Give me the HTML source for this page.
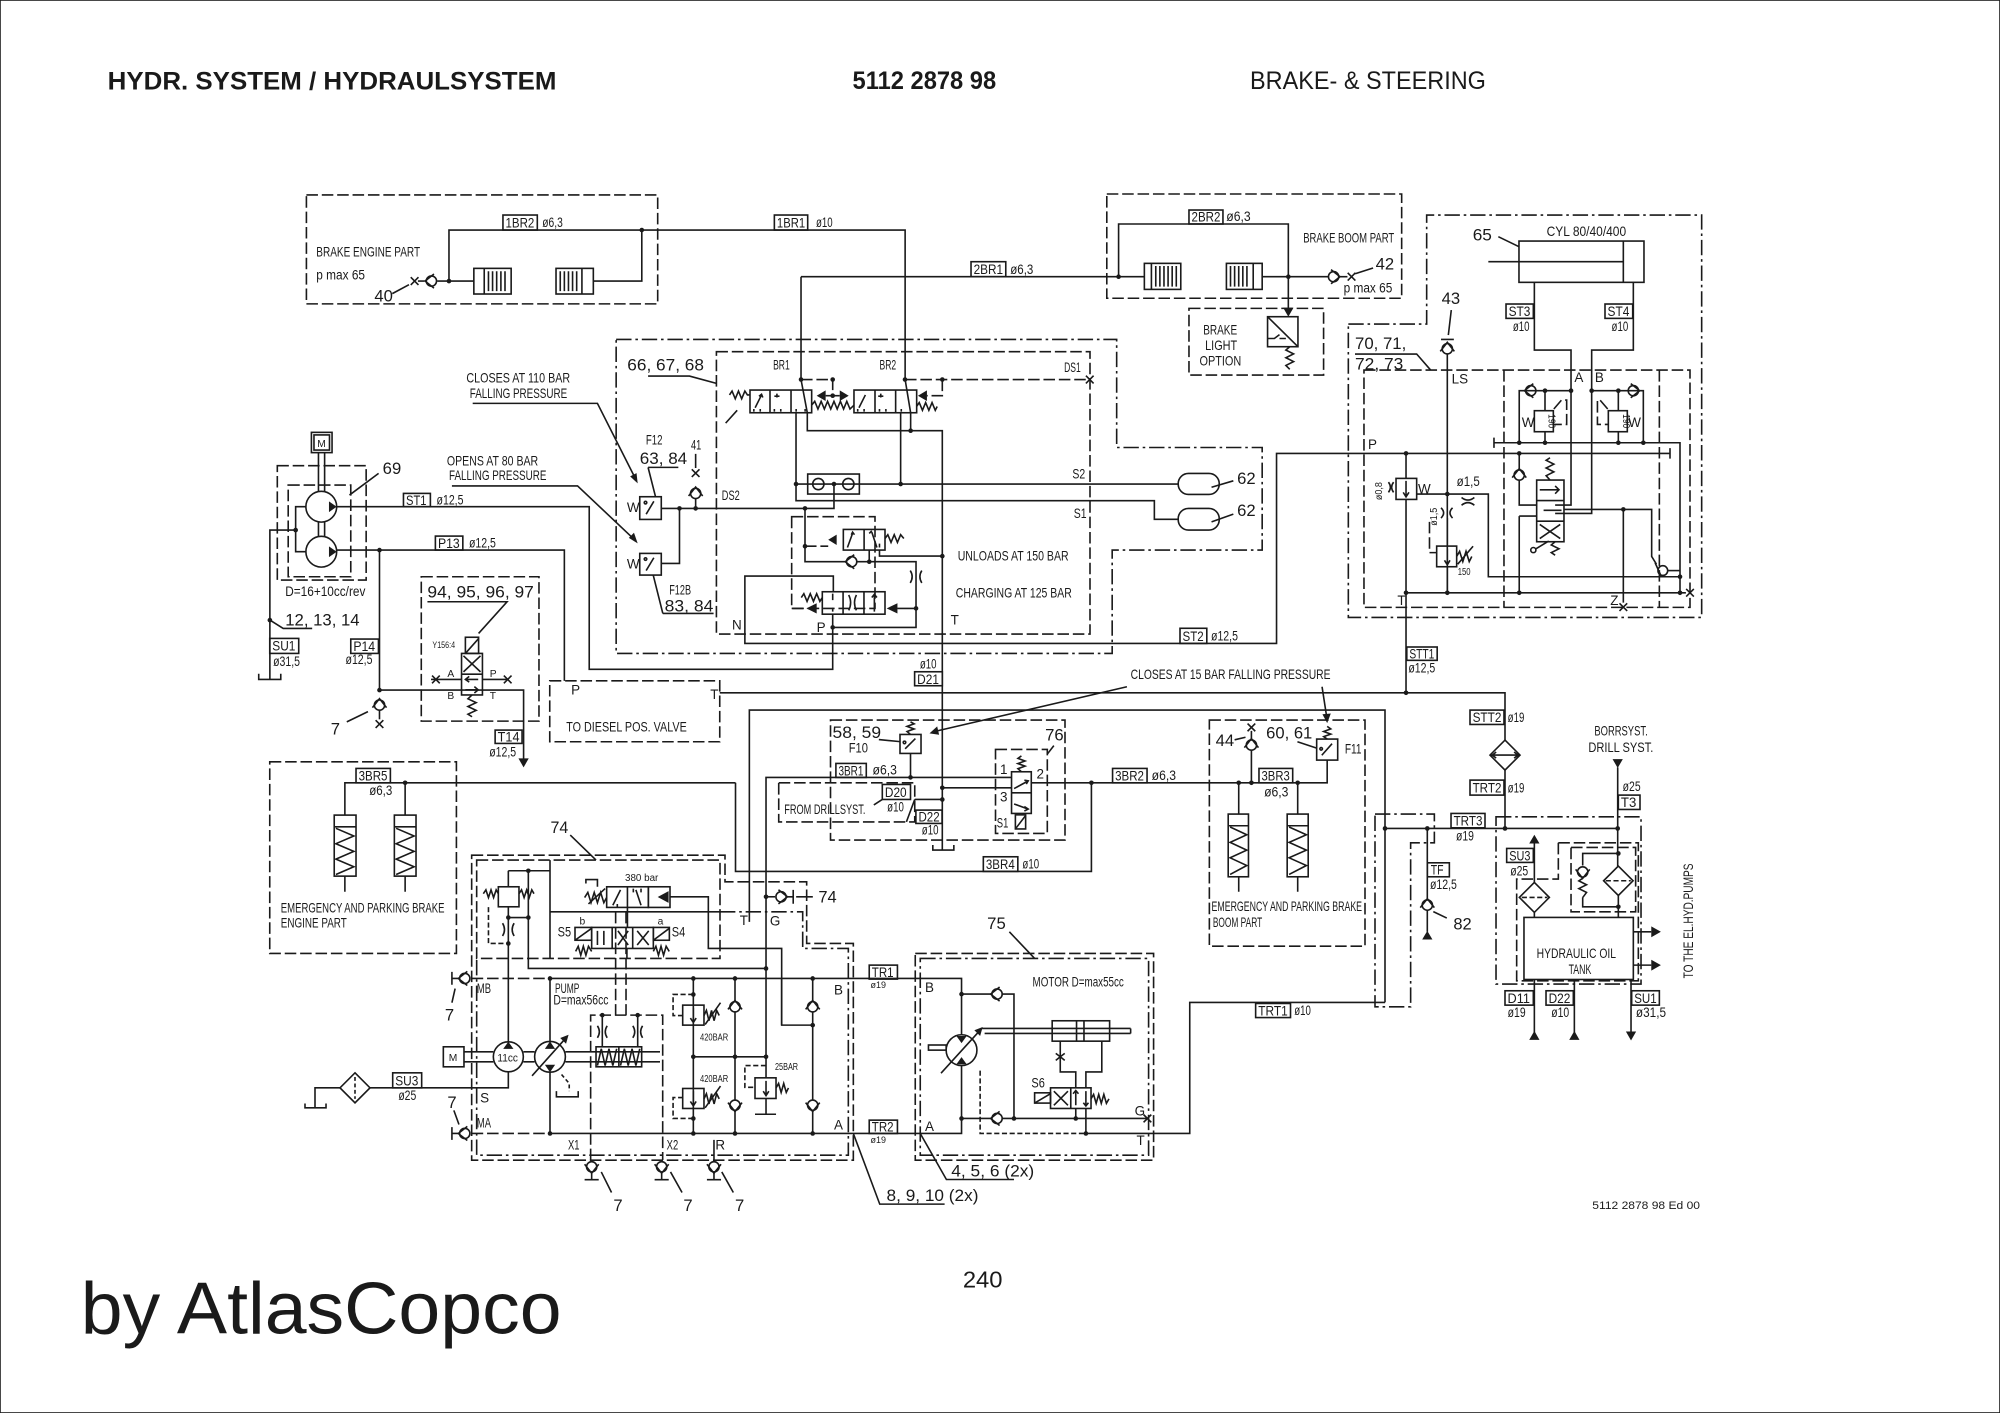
<!DOCTYPE html>
<html><head><meta charset="utf-8"><style>
html,body{margin:0;padding:0;background:#fff}
svg{display:block}
</style></head><body>
<svg xmlns="http://www.w3.org/2000/svg" xmlns:xlink="http://www.w3.org/1999/xlink" width="2000" height="1413" viewBox="0 0 1560 1102" preserveAspectRatio="none">
<style>
path,line,rect,circle,polyline,polygon{stroke:#1a1a1a;stroke-width:1.25;fill:none}
.d{stroke-dasharray:9 3}
.dd{stroke-dasharray:12 3 2 3}
.f{fill:#1a1a1a;stroke:none}
text{font-family:"Liberation Sans",sans-serif;fill:#1a1a1a;stroke:none}
.s{font-size:10.5px}
.n{font-size:13px}
.x{font-size:8px}
.h{font-size:19.5px;font-weight:bold}
</style>
<defs>
<circle id="dot" r="1.8" class="f"/>
<g id="cv"><circle r="4"/><path d="M-5.5 -2 L0 5 L5.5 -2"/></g>
<path id="tri" class="f" d="M-4 -7 L4 -7 L0 0 Z"/>
<g id="xx"><path d="M-3 -3 L3 3 M3 -3 L-3 3"/></g>
</defs>
<rect x="0" y="0" width="1560" height="1102" fill="#fff" stroke="none"/>

<!-- HEADER / FOOTER -->
<text class="h" x="84" y="70" textLength="350" lengthAdjust="spacingAndGlyphs">HYDR. SYSTEM / HYDRAULSYSTEM</text>
<text class="h" x="665" y="69.5" textLength="112" lengthAdjust="spacingAndGlyphs">5112 2878 98</text>
<text style="font-size:19.5px" x="975" y="69.5" textLength="184" lengthAdjust="spacingAndGlyphs">BRAKE- &amp; STEERING</text>
<text style="font-size:18px" x="751" y="1004" textLength="31" lengthAdjust="spacingAndGlyphs">240</text>
<text style="font-size:57px" x="63" y="1040" textLength="375" lengthAdjust="spacingAndGlyphs">by AtlasCopco</text>
<text style="font-size:8.5px" x="1242" y="943" textLength="84" lengthAdjust="spacingAndGlyphs">5112 2878 98 Ed 00</text>

<!-- BRAKE ENGINE PART -->
<rect class="d" x="239" y="152" width="274" height="85"/>
<path d="M350.2 219.2 V179.4 H706 V296 L710.3 322 V335.9"/>
<path d="M500.6 179.4 V219.2 H462.8"/>
<path d="M341 219.2 H369.6"/>
<use xlink:href="#dot" x="350.2" y="219.2"/><use xlink:href="#dot" x="500.6" y="179.4"/>
<rect x="369.6" y="209.3" width="29.1" height="20"/>
<path d="M377.7 209.3 V229.3 M381 211.5 V227 M384.2 211.5 V227 M387.4 211.5 V227 M390.7 211.5 V227 M393.9 211.5 V227"/>
<rect x="433.7" y="209.3" width="29.1" height="20"/>
<path d="M453.9 209.3 V229.3 M437 211.5 V227 M440.2 211.5 V227 M443.4 211.5 V227 M446.6 211.5 V227 M449.8 211.5 V227"/>
<use xlink:href="#cv" transform="translate(336.5 219.2) rotate(90)"/>
<use xlink:href="#xx" x="323.4" y="219.2"/>
<path d="M326 219.2 H331"/>
<text class="n" x="292" y="235">40</text>
<path d="M306 229 L319 222"/>
<rect x="392.3" y="167.7" width="26.8" height="11.7"/>
<text class="s" x="394.3" y="177.4" textLength="22.5" lengthAdjust="spacingAndGlyphs">1BR2</text>
<text class="s" x="423" y="177" textLength="16" lengthAdjust="spacingAndGlyphs">ø6,3</text>
<rect x="604" y="167.7" width="26" height="11.7"/>
<text class="s" x="606" y="177.4" textLength="22" lengthAdjust="spacingAndGlyphs">1BR1</text>
<text class="s" x="636.5" y="177" textLength="13" lengthAdjust="spacingAndGlyphs">ø10</text>
<text class="s" x="246.7" y="200" textLength="81" lengthAdjust="spacingAndGlyphs">BRAKE ENGINE PART</text>
<text class="s" x="246.7" y="218" textLength="38" lengthAdjust="spacingAndGlyphs">p max 65</text>

<!-- BRAKE BOOM PART -->
<rect class="d" x="863.3" y="151.3" width="230" height="81.3"/>
<path d="M624.8 215.8 H872.5"/>
<path d="M624.8 215.8 V296 L629.7 322 V335.9 H735 V663"/>
<path d="M872.5 215.8 V174.7 H1004.9 V242"/>
<use xlink:href="#tri" x="1004.9" y="247"/>
<use xlink:href="#dot" x="872.5" y="215.8"/><use xlink:href="#dot" x="1004.9" y="215.8"/>
<path d="M872.5 215.8 H892.6 M984.5 215.8 H1036"/>
<rect x="892.6" y="205.4" width="28.4" height="20.3"/>
<path d="M898.1 205.4 V225.7 M901.5 207.5 V223.5 M904.7 207.5 V223.5 M907.9 207.5 V223.5 M911.1 207.5 V223.5 M914.3 207.5 V223.5 M917.5 207.5 V223.5"/>
<rect x="956.6" y="205.4" width="27.9" height="20.3"/>
<path d="M977.5 205.4 V225.7 M959.8 207.5 V223.5 M963 207.5 V223.5 M966.2 207.5 V223.5 M969.4 207.5 V223.5 M972.6 207.5 V223.5"/>
<use xlink:href="#cv" transform="translate(1040.2 215.8) rotate(-90)"/>
<use xlink:href="#xx" x="1054.2" y="215.8"/>
<path d="M1044.5 215.8 H1051"/>
<text class="n" x="1073" y="210">42</text>
<path d="M1057 213.5 L1071 209"/>
<text class="s" x="1048" y="228" textLength="38" lengthAdjust="spacingAndGlyphs">p max 65</text>
<text class="s" x="1016.5" y="189" textLength="71" lengthAdjust="spacingAndGlyphs">BRAKE BOOM PART</text>
<rect x="757.4" y="204.1" width="27.1" height="11.7"/>
<text class="s" x="759.4" y="213.8" textLength="23" lengthAdjust="spacingAndGlyphs">2BR1</text>
<text class="s" x="788" y="213.5" textLength="18" lengthAdjust="spacingAndGlyphs">ø6,3</text>
<rect x="927.4" y="163.8" width="26.5" height="10.9"/>
<text class="s" x="929.4" y="172.8" textLength="22.5" lengthAdjust="spacingAndGlyphs">2BR2</text>
<text class="s" x="956.5" y="172.5" textLength="19" lengthAdjust="spacingAndGlyphs">ø6,3</text>
<rect class="d" x="927.4" y="240.5" width="105" height="52"/>
<text class="s" x="938.5" y="261" textLength="26.5" lengthAdjust="spacingAndGlyphs">BRAKE</text>
<text class="s" x="940" y="273" textLength="25" lengthAdjust="spacingAndGlyphs">LIGHT</text>
<text class="s" x="935.6" y="285" textLength="32.6" lengthAdjust="spacingAndGlyphs">OPTION</text>
<rect x="988.7" y="247" width="23.7" height="23.4"/>
<path d="M988.7 247 L1012.4 270.4 M988.7 264 H994 L998 261 M998 264 H1003"/>
<polyline points="1006,270.4 1003,273 1009,276 1003,279 1009,282 1003,285 1006,288"/>

<!-- STEERING 70-73 / CYL 65 -->
<path class="dd" d="M1051.7 252.7 H1112.8 V167.7 H1327.3 V481.5 H1051.7 Z"/>
<rect class="d" x="1063.9" y="288.6" width="254.3" height="185.1"/>
<path class="d" d="M1173.1 288.6 V473.7 M1294.3 288.6 V473.7"/>
<rect x="1184.8" y="188" width="97.5" height="32.2"/>
<path d="M1266.2 188 V220.2 M1160.9 204.1 H1266.2"/>
<text class="s" x="1206.4" y="184" textLength="62" lengthAdjust="spacingAndGlyphs">CYL 80/40/400</text>
<text class="n" x="1148.7" y="187.5" textLength="15" lengthAdjust="spacingAndGlyphs">65</text>
<path d="M1168.7 184.6 L1184.8 192.4"/>
<rect x="1174.7" y="237.1" width="21.3" height="11.2"/>
<text class="s" x="1176.7" y="246.5" textLength="17" lengthAdjust="spacingAndGlyphs">ST3</text>
<text class="s" x="1180" y="258" textLength="13" lengthAdjust="spacingAndGlyphs">ø10</text>
<rect x="1251.9" y="237.1" width="21.6" height="11.2"/>
<text class="s" x="1253.9" y="246.5" textLength="17" lengthAdjust="spacingAndGlyphs">ST4</text>
<text class="s" x="1257" y="258" textLength="13" lengthAdjust="spacingAndGlyphs">ø10</text>
<path d="M1196.8 220.2 V273 H1225.4 V393.9 H1213"/>
<path d="M1274 220.2 V273 H1241.5 V400.4 H1213"/>
<text class="s" x="1228" y="298">A</text>
<text class="s" x="1244" y="298">B</text>
<text class="n" x="1124.5" y="237">43</text>
<path d="M1132 241.8 L1129.7 261.3 M1124 264.7 H1134"/>
<use xlink:href="#cv" transform="translate(1128.9 272) rotate(180)"/>
<path d="M1128.9 276 V462.3"/>
<text class="s" x="1132.3" y="299">LS</text>
<text class="n" x="1056.9" y="272" textLength="40" lengthAdjust="spacingAndGlyphs">70, 71,</text>
<text class="n" x="1056.9" y="288" textLength="37.7" lengthAdjust="spacingAndGlyphs">72, 73</text>
<path d="M1056.9 276.1 H1105 L1115.9 288.6"/>
<!-- ST2 / P line -->
<path d="M650 461.5 V449.3 H581 V501.8 H995.7 V353.6 H1302.6 M1302.6 349.5 V357.7"/>
<rect x="920.4" y="490" width="20.9" height="11.8"/>
<text class="s" x="922.4" y="499.8" textLength="16.5" lengthAdjust="spacingAndGlyphs">ST2</text>
<text class="s" x="944.6" y="499.5" textLength="21" lengthAdjust="spacingAndGlyphs">ø12,5</text>
<text class="s" x="1067" y="350">P</text>
<use xlink:href="#dot" x="1096.7" y="353.6"/><use xlink:href="#dot" x="1185" y="353.6"/>
<path d="M1165.3 341.3 V349.3 M1165.3 345.3 H1310.4 V462.3"/>
<use xlink:href="#dot" x="1185" y="345.3"/><use xlink:href="#dot" x="1205.1" y="345.3"/><use xlink:href="#dot" x="1262.3" y="345.3"/><use xlink:href="#dot" x="1281.8" y="345.3"/>
<path d="M1185 345.3 V304.7 H1225.4 M1241.5 304.7 H1281.8 V345.3"/>
<use xlink:href="#cv" transform="translate(1194 304.7) rotate(90)"/>
<use xlink:href="#cv" transform="translate(1274 304.7) rotate(-90)"/>
<use xlink:href="#dot" x="1205.1" y="304.7"/><use xlink:href="#dot" x="1225.4" y="304.7"/><use xlink:href="#dot" x="1241.5" y="304.7"/><use xlink:href="#dot" x="1262.3" y="304.7"/>
<path d="M1205.1 304.7 V320.3 M1205.1 336.7 V345.3 M1262.3 304.7 V320.3 M1262.3 336.7 V345.3"/>
<rect x="1196.8" y="320.3" width="14.8" height="16.4"/>
<rect x="1254.5" y="320.3" width="14.8" height="16.4"/>
<text class="x" x="1208" y="323" transform="rotate(90 1208 323)" textLength="11" lengthAdjust="spacingAndGlyphs">190</text>
<text class="x" x="1266" y="323" transform="rotate(90 1266 323)" textLength="11" lengthAdjust="spacingAndGlyphs">190</text>
<text class="s" x="1187" y="333">W</text><text class="s" x="1270" y="333">W</text>
<path class="d" d="M1212 319 L1218 312 H1222 V331 H1212 M1254 319 L1248 312 H1246 V331 H1254"/>
<path d="M1096.7 353.6 V373.1 M1096.7 389.5 V540.3"/>
<rect x="1088.9" y="373.1" width="16.1" height="16.4"/>
<path d="M1096.7 375 V387 M1094.5 384 L1096.7 387.5 L1099 384"/>
<text class="s" x="1106" y="385">W</text>
<text class="x" x="1078" y="390" transform="rotate(-90 1078 390)" textLength="14" lengthAdjust="spacingAndGlyphs">ø0,8</text>
<path d="M1083 376 Q1086 380 1083 384 M1087 376 Q1084 380 1087 384"/>
<path d="M1105 385.3 H1160.9 V449.8 H1310.4"/>
<use xlink:href="#dot" x="1128.9" y="385.3"/>
<text class="s" x="1136.2" y="379" textLength="18" lengthAdjust="spacingAndGlyphs">ø1,5</text>
<path d="M1140 388 Q1145 392 1150 388 M1140 394 Q1145 390 1150 394"/>
<text class="x" x="1121" y="410" transform="rotate(-90 1121 410)" textLength="14" lengthAdjust="spacingAndGlyphs">ø1,5</text>
<path d="M1124 396 Q1128 400 1124 404 M1133 396 Q1129 400 1133 404"/>
<path d="M1128.9 404 V425.9 M1128.9 442 V462.3"/>
<rect x="1120.6" y="425.9" width="15.6" height="16.1"/>
<path d="M1128.9 428 V440 M1126.7 437 L1128.9 440.5 L1131 437"/>
<polyline points="1136.2,434 1138.5,430 1141,438 1143.5,430 1146,438 1148,434"/>
<path d="M1137 440 L1149 426"/>
<text class="x" x="1137" y="448.5" textLength="10" lengthAdjust="spacingAndGlyphs">150</text>
<path class="d" d="M1115 407 V431 H1120.6"/>
<path d="M1096.7 462.3 H1310.4 H1315"/>
<use xlink:href="#dot" x="1096.7" y="462.3"/><use xlink:href="#dot" x="1128.9" y="462.3"/><use xlink:href="#dot" x="1185" y="462.3"/><use xlink:href="#dot" x="1310.4" y="462.3"/><use xlink:href="#dot" x="1310.4" y="449.8"/>
<use xlink:href="#xx" x="1318.2" y="462.3"/>
<text class="s" x="1090" y="472">T</text>
<rect x="1198.6" y="374.4" width="21.3" height="48.1"/>
<path d="M1198.6 390.4 H1219.9 M1198.6 406.5 H1219.9 M1201 382 H1216 M1213 379 L1216 382 L1213 385 M1204 398 H1218 M1201 409 L1217 420 M1217 409 L1201 420"/>
<polyline points="1209,374.4 1206,371 1212,368 1206,365 1212,362 1206,359 1209,357"/>
<polyline points="1213,422.5 1210,425 1216,428 1210,431 1213,433"/>
<path d="M1198 428 L1208 422 M1196 429 m-2 0 a2 2 0 1 0 4 0 a2 2 0 1 0 -4 0"/>
<use xlink:href="#cv" transform="translate(1185 370.5) rotate(180)"/>
<path d="M1185 353.6 V366 M1185 375 V393.9 H1198.6 M1185 402.5 H1198.6 M1185 402.5 V462.3"/>
<path d="M1219.9 397.3 H1288.3 V434 L1292 440"/>
<use xlink:href="#dot" x="1266.2" y="397.3"/>
<path d="M1266.2 397.3 V470"/>
<use xlink:href="#xx" x="1266.2" y="473.5"/>
<text class="s" x="1256" y="472">Z</text>
<circle cx="1297" cy="445" r="3.8"/>
<path d="M1291 439 L1296 450"/>
<path d="M1301 445 H1310.4"/>

<!-- VALVE BLOCK 66,67,68 -->
<path class="dd" d="M480.6 264.7 H871 V349 H984.5 V429 H867.5 V509.6 H480.6 Z"/>
<rect class="d" x="558.8" y="274.3" width="291.4" height="220.2"/>
<text class="n" x="489.3" y="289" textLength="59.8" lengthAdjust="spacingAndGlyphs">66, 67, 68</text>
<path d="M505.5 293.3 H537.8 L558.8 299"/>
<text class="s" x="603" y="288" textLength="13" lengthAdjust="spacingAndGlyphs">BR1</text>
<text class="s" x="686" y="288" textLength="13" lengthAdjust="spacingAndGlyphs">BR2</text>
<rect x="585" y="304.2" width="48.1" height="17.7"/>
<path d="M600.6 304.2 V321.9 M617 304.2 V321.9 M589 318 L594 308 M592 309 L594 307.5 L595 310 M606 307 V310 M604 309 H608 M588 319 V321 M593 319 V321 M604 319 V321 M609 319 V321 M621 319 V321 M628 319 V321"/>
<rect x="666.1" y="304.2" width="48.9" height="17.7"/>
<path d="M682.5 304.2 V321.9 M698.6 304.2 V321.9 M670 318 L675 308 M687 307 V310 M685 309 H689 M669 319 V321 M674 319 V321 M686 319 V321 M691 319 V321 M703 319 V321"/>
<polyline points="569,308 571,305 573.5,311 576,305 578.5,311 581,305 583,308 585,308"/>
<path d="M575 320 L566 330"/>
<polyline points="633.1,316 635.5,313 638,319 640.5,313 643,319 645.5,313 648,319 650.5,313 653,319 655.5,313 658,319 660.5,313 663,319 666.1,316"/>
<path class="f" d="M637 308.6 L644 304.5 L644 312.7 Z M662 308.6 L655 304.5 L655 312.7 Z"/>
<path d="M644 308.6 H655"/>
<use xlink:href="#dot" x="649.5" y="308.6"/>
<path class="f" d="M716 308.6 L723 304.5 L723 312.7 Z"/>
<polyline points="715,317 717,314 719.5,320 722,314 724.5,320 727,314 729.5,320 731,317"/>
<path class="d" d="M624.8 296 H649.5 V305"/>
<path class="d" d="M705.9 296 H850 M735 296 V308.6 H723"/>
<use xlink:href="#dot" x="624.8" y="296"/><use xlink:href="#dot" x="705.9" y="296"/><use xlink:href="#dot" x="735" y="296"/><use xlink:href="#dot" x="649.5" y="296"/>
<use xlink:href="#xx" x="850" y="296"/>
<text class="s" x="830" y="290" textLength="13" lengthAdjust="spacingAndGlyphs">DS1</text>
<use xlink:href="#dot" x="710.3" y="335.9"/>
<path d="M620.9 321.9 V390.5 H900.4 V405 H919"/>
<path d="M702.5 321.9 V377.5"/>
<path d="M620.9 377.5 H919"/>
<use xlink:href="#dot" x="620.9" y="377.5"/><use xlink:href="#dot" x="702.5" y="377.5"/>
<rect x="630" y="369.7" width="40.3" height="15.6"/>
<circle cx="638.3" cy="377.5" r="4.4"/><circle cx="661.7" cy="377.5" r="4.4"/>
<use xlink:href="#dot" x="650.5" y="377.5"/>
<path d="M650.5 377.5 V396.5 H515.8"/>
<use xlink:href="#dot" x="627.9" y="396.5"/><use xlink:href="#dot" x="530" y="396.5"/><use xlink:href="#dot" x="542.6" y="396.5"/>
<text class="s" x="563" y="390" textLength="14" lengthAdjust="spacingAndGlyphs">DS2</text>
<text class="s" x="836.5" y="373" textLength="10" lengthAdjust="spacingAndGlyphs">S2</text>
<text class="s" x="837.5" y="404" textLength="10" lengthAdjust="spacingAndGlyphs">S1</text>
<rect x="919" y="369.2" width="32" height="16.4" rx="8"/>
<rect x="919" y="396.5" width="32" height="16.9" rx="8"/>
<text class="n" x="965" y="377.5">62</text>
<text class="n" x="965" y="402.5">62</text>
<path d="M945 380 L962 375 M945 407 L962 401"/>
<!-- unloader -->
<rect class="d" x="617.5" y="403" width="65" height="71.5"/>
<path d="M627.9 396.5 V438.1 H660"/>
<path class="d" d="M627.9 426 H646"/>
<use xlink:href="#dot" x="627.9" y="426"/>
<rect x="657.8" y="412.9" width="32.5" height="16.1"/>
<path d="M674 412.9 V429 M661 427 L665 416 M664 417 L665 415 L666.5 417 M680 415 L684 427 M678 416 L680 414 M686 427 V424"/>
<path class="f" d="M646 421 L652.6 417 L652.6 425 Z M646.5 425.5 L657.8 421"/>
<polyline points="690.3,420 692.5,417 695,423 697.5,417 700,423 702.5,417 705,420"/>
<use xlink:href="#cv" transform="translate(664.3 438.1) rotate(90)"/>
<path d="M668.5 438.1 H714.5 V489.3 H649.5 M678 438.1 V429"/>
<use xlink:href="#dot" x="678" y="438.1"/>
<path d="M686 429 V433.7 H735"/>
<use xlink:href="#dot" x="735" y="433.7"/>
<path d="M710 445 Q713 449.8 710 454.6 M719 445 Q716 449.8 719 454.6" />
<rect x="641.4" y="461.5" width="48.9" height="17.5"/>
<path d="M657.6 461.5 V479 M673.9 461.5 V479 M649.5 463 V468 M649.5 474 V477 M662 464 Q665 470 662 476 M668 464 Q665 470 668 476 M682 477 V464 M680 466 L682 463.5 L684 466"/>
<polyline points="625,466 627,463 629.5,469 632,463 634.5,469 637,463 639.5,469 641.4,466"/>
<path class="f" d="M629 474.5 L637 470.5 L637 478.5 Z M691.6 474.5 L700 470.5 L700 478.5 Z"/>
<path class="d" d="M617.5 474.5 H629"/>
<path d="M700 474.5 H714.5"/>
<use xlink:href="#dot" x="714.5" y="474.5"/>
<text class="s" x="637" y="493">P</text>
<use xlink:href="#dot" x="649.5" y="489.3"/>
<text class="s" x="571" y="491">N</text>
<text class="s" x="747" y="437.3" textLength="86.5" lengthAdjust="spacingAndGlyphs">UNLOADS AT 150 BAR</text>
<text class="s" x="745.5" y="466" textLength="90.5" lengthAdjust="spacingAndGlyphs">CHARGING AT 125 BAR</text>
<text class="s" x="741.5" y="487">T</text>
<!-- pressure switches F12 -->
<rect x="499" y="387.4" width="16.8" height="17.7"/>
<path d="M504 401 L510 391 M503.5 392 m-1 0 a1 1 0 1 0 2 0 a1 1 0 1 0 -2 0"/>
<text class="s" x="489" y="399.5">W</text>
<text class="s" x="503.8" y="346.5" textLength="13" lengthAdjust="spacingAndGlyphs">F12</text>
<text class="n" x="499" y="362" textLength="37" lengthAdjust="spacingAndGlyphs">63, 84</text>
<path d="M505.5 364.5 H529.1 M505.5 364.5 L511.3 387.4"/>
<text class="s" x="539" y="350.5" textLength="8" lengthAdjust="spacingAndGlyphs">41</text>
<path d="M542.6 354 V365 M542.6 389 V396.5"/>
<use xlink:href="#xx" x="542.6" y="369"/>
<use xlink:href="#cv" transform="translate(542.6 384.8) rotate(180)"/>
<rect x="499" y="431.6" width="16.8" height="16.9"/>
<path d="M504 445 L510 435 M503.5 436 m-1 0 a1 1 0 1 0 2 0 a1 1 0 1 0 -2 0"/>
<text class="s" x="489" y="443.5">W</text>
<path d="M515.8 439.4 H530 V396.5"/>
<text class="s" x="522" y="463.5" textLength="17" lengthAdjust="spacingAndGlyphs">F12B</text>
<text class="n" x="518.4" y="477" textLength="38" lengthAdjust="spacingAndGlyphs">83, 84</text>
<path d="M517 478.4 H556.6 M517 478.4 L509.5 448.5"/>
<text class="s" x="363.8" y="298.5" textLength="80.9" lengthAdjust="spacingAndGlyphs">CLOSES AT 110 BAR</text>
<text class="s" x="366.4" y="310.3" textLength="76" lengthAdjust="spacingAndGlyphs">FALLING PRESSURE</text>
<path d="M368.7 314.6 H466 L495 372"/>
<path class="f" d="M497.4 377 L491.5 371.5 L496.5 369 Z"/>
<text class="s" x="348.6" y="363" textLength="71.2" lengthAdjust="spacingAndGlyphs">OPENS AT 80 BAR</text>
<text class="s" x="350.2" y="374.5" textLength="76" lengthAdjust="spacingAndGlyphs">FALLING PRESSURE</text>
<path d="M352.5 379 H450.5 L494 420"/>
<path class="f" d="M497.4 423.8 L490.5 419.5 L494.5 415.5 Z"/>

<!-- PUMP 69 -->
<rect x="242.9" y="337.2" width="16.1" height="15.8"/>
<rect x="244.9" y="339.2" width="12.1" height="11.8"/>
<text class="x" x="247.5" y="348.5">M</text>
<path d="M248.4 353 V383.2 M253.2 353 V383.2 M248.4 407.2 V418.3 M253.2 407.2 V418.3"/>
<circle cx="250.6" cy="395.2" r="12"/>
<circle cx="250.6" cy="430.3" r="12"/>
<path class="f" d="M262.6 395.2 L256.6 391 L256.6 399.4 Z M262.6 430.3 L256.6 426.1 L256.6 434.5 Z"/>
<rect class="d" x="216.3" y="363.2" width="69.3" height="89.2"/>
<rect class="d" x="224.8" y="378.3" width="48.8" height="71.5"/>
<path d="M238.6 395.2 H230.6 V430.3 H238.6 M230.6 413.4 H210.5 V529.9"/>
<use xlink:href="#dot" x="230.6" y="413.4"/>
<text class="n" x="298.5" y="369.5">69</text>
<path d="M272.6 386.1 L295.3 369.2"/>
<path d="M262.6 395.2 H459.6 V522 H649.5 V479"/>
<rect x="314.7" y="384.8" width="21" height="10.4"/>
<text class="s" x="316.7" y="393.8" textLength="16" lengthAdjust="spacingAndGlyphs">ST1</text>
<text class="s" x="340.5" y="393.5" textLength="21" lengthAdjust="spacingAndGlyphs">ø12,5</text>
<path d="M262.6 429 H440.2 V531"/>
<use xlink:href="#dot" x="296" y="429"/>
<rect x="339.6" y="418.1" width="21.4" height="10.9"/>
<text class="s" x="341.6" y="427.4" textLength="17" lengthAdjust="spacingAndGlyphs">P13</text>
<text class="s" x="365.8" y="427" textLength="21" lengthAdjust="spacingAndGlyphs">ø12,5</text>
<text class="s" x="222.5" y="465" textLength="62.5" lengthAdjust="spacingAndGlyphs">D=16+10cc/rev</text>
<text class="n" x="222.5" y="488" textLength="58" lengthAdjust="spacingAndGlyphs">12, 13, 14</text>
<path d="M210.5 483.6 L220.9 490.1 H243.5"/>
<use xlink:href="#dot" x="210.5" y="483.6"/>
<rect x="210.4" y="497.9" width="22.6" height="11.7"/>
<text class="s" x="212.4" y="507.5" textLength="18" lengthAdjust="spacingAndGlyphs">SU1</text>
<text class="s" x="213" y="519.5" textLength="21" lengthAdjust="spacingAndGlyphs">ø31,5</text>
<path d="M201.8 525.5 V529.9 H219 V525.5"/>
<path d="M296 429 V538.2"/>
<rect x="273.6" y="498.4" width="21.6" height="11.2"/>
<text class="s" x="275.6" y="507.8" textLength="17" lengthAdjust="spacingAndGlyphs">P14</text>
<text class="s" x="269.5" y="518" textLength="21" lengthAdjust="spacingAndGlyphs">ø12,5</text>
<use xlink:href="#dot" x="296" y="538.2"/>
<use xlink:href="#cv" transform="translate(296 549.9) rotate(180)"/>
<path d="M296 554 V561"/>
<use xlink:href="#xx" x="296" y="564.7"/>
<text class="n" x="258" y="573">7</text>
<path d="M270.5 563 L287 555"/>
<path d="M296 538.2 H408.4 V592"/>
<use xlink:href="#tri" x="408.4" y="598.5"/>
<rect x="386.2" y="569.4" width="21" height="10.4"/>
<text class="s" x="388.2" y="578.4" textLength="17" lengthAdjust="spacingAndGlyphs">T14</text>
<text class="s" x="381.6" y="590" textLength="21" lengthAdjust="spacingAndGlyphs">ø12,5</text>
<rect class="d" x="328.6" y="449.8" width="91.8" height="112.6"/>
<text class="n" x="333.4" y="466" textLength="83" lengthAdjust="spacingAndGlyphs">94, 95, 96, 97</text>
<path d="M333.4 469.3 H395.5 L373.3 494"/>
<text style="font-size:7px" x="337.3" y="505.5" textLength="17.7" lengthAdjust="spacingAndGlyphs">Y156:4</text>
<rect x="363" y="497" width="10.3" height="12.6"/>
<path d="M363 509.6 L373.3 498"/>
<rect x="360" y="509.6" width="16.3" height="32.4"/>
<path d="M360 525.8 H376.3 M361.5 511.5 L374.8 524 M374.8 511.5 L361.5 524 M363 529.9 H373 M366 527.5 L363 529.9 L366 532 M363 538 H373 M370 535.5 L373 538 L370 540.5"/>
<polyline points="368.2,542 365,545 371.4,548 365,551 371.4,554 365,557 368.2,559"/>
<path d="M336.2 529.9 H360 M376.3 529.9 H396"/>
<use xlink:href="#xx" x="340" y="529.9"/><use xlink:href="#xx" x="396" y="529.9"/>
<text class="x" x="349" y="528">A</text><text class="x" x="382" y="528">P</text>
<text class="x" x="349" y="545">B</text><text class="x" x="382" y="545">T</text>

<!-- DIESEL -->
<rect class="d" x="428.8" y="531" width="132.6" height="47.5"/>
<text class="s" x="445.5" y="541.5">P</text>
<text class="s" x="554" y="545">T</text>
<text class="s" x="441.7" y="570.5" textLength="94" lengthAdjust="spacingAndGlyphs">TO DIESEL POS. VALVE</text>
<path d="M561.4 540.3 H1173.9 V577.2 M1173.9 600.6 V646.1"/>
<use xlink:href="#dot" x="1096.7" y="540.3"/>
<rect x="1097.3" y="504.6" width="23.7" height="10.4"/>
<text class="s" x="1099.3" y="513.6" textLength="19.5" lengthAdjust="spacingAndGlyphs">STT1</text>
<text class="s" x="1098.5" y="524.5" textLength="21" lengthAdjust="spacingAndGlyphs">ø12,5</text>
<path d="M584.5 719 V553.8 H1080.3 V781.8"/>
<text class="s" x="717.5" y="521.5" textLength="13" lengthAdjust="spacingAndGlyphs">ø10</text>
<rect x="713.4" y="523.9" width="21.6" height="10.9"/>
<text class="s" x="715.4" y="533.3" textLength="17" lengthAdjust="spacingAndGlyphs">D21</text>
<path d="M727.6 659 V663 H744 V659"/>

<!-- CLOSES AT 15 BAR -->
<text class="s" x="881.9" y="529.5" textLength="155.9" lengthAdjust="spacingAndGlyphs">CLOSES AT 15 BAR FALLING PRESSURE</text>
<path d="M879 535.6 L731 570"/>
<path class="f" d="M725 572 L731 566.5 L732.5 573 Z"/>
<path d="M1031.2 535.6 L1034.5 557"/>
<path class="f" d="M1035.2 564 L1031.5 557 L1038 556.5 Z"/>

<!-- 58,59 / 76 -->
<rect class="d" x="647.8" y="561.6" width="182.9" height="93.6"/>
<text class="n" x="649.4" y="575.5" textLength="37.8" lengthAdjust="spacingAndGlyphs">58, 59</text>
<text class="s" x="662" y="587" textLength="15" lengthAdjust="spacingAndGlyphs">F10</text>
<path d="M685.5 576.8 L702 578.4"/>
<rect x="702" y="572.8" width="16.4" height="14.8"/>
<path d="M706 584 L714 576 M705.5 579 m-1 0 a1 1 0 1 0 2 0 a1 1 0 1 0 -2 0"/>
<polyline points="710.2,572.8 707.5,570.5 713,568.5 707.5,566.5 713,564.5 710.2,563"/>
<path d="M710.2 587.6 V606.3"/>
<use xlink:href="#dot" x="710.2" y="606.3"/>
<rect x="652" y="595.4" width="23.7" height="10.9"/>
<text class="s" x="654" y="604.8" textLength="19.5" lengthAdjust="spacingAndGlyphs">3BR1</text>
<text class="s" x="680.6" y="604" textLength="19" lengthAdjust="spacingAndGlyphs">ø6,3</text>
<path d="M597.5 824.2 V606.3 H789"/>
<rect class="d" x="607.4" y="610.5" width="106.1" height="30.5"/>
<text class="s" x="611.7" y="635" textLength="63.3" lengthAdjust="spacingAndGlyphs">FROM DRILLSYST.</text>
<rect x="688.2" y="611.8" width="22" height="11.7"/>
<text class="s" x="690.2" y="621.5" textLength="17" lengthAdjust="spacingAndGlyphs">D20</text>
<text class="s" x="692" y="633" textLength="13" lengthAdjust="spacingAndGlyphs">ø10</text>
<path d="M681.6 627.8 L688.2 623.5"/>
<path d="M713.5 623.5 H735 M735 614.4 H789"/>
<use xlink:href="#dot" x="735" y="614.4"/><use xlink:href="#dot" x="735" y="623.5"/>
<path d="M707 641 L713.5 623.5"/>
<rect x="714.4" y="631.8" width="20.4" height="10.4"/>
<text class="s" x="716.4" y="640.8" textLength="16.5" lengthAdjust="spacingAndGlyphs">D22</text>
<text class="s" x="719" y="651" textLength="13" lengthAdjust="spacingAndGlyphs">ø10</text>
<rect class="d" x="776.5" y="584.5" width="40.4" height="65.5"/>
<rect x="789" y="601.9" width="15.4" height="32.5"/>
<path d="M789 618.3 H804.4 M791 615 L802 609 M799 608.5 L802 609 L800.5 611.5 M791 627 L802 631 M799 629 L802 631 L799 632.5"/>
<polyline points="796.7,601.9 794,599.5 799.5,597.5 794,595.5 799.5,593.5 794,591.5 796.7,589.5"/>
<rect x="792" y="635.5" width="8" height="11"/>
<path d="M792 646.5 L800 636"/>
<text class="s" x="780" y="603.5">1</text>
<text class="s" x="808.5" y="607">2</text>
<text class="s" x="780" y="625">3</text>
<text class="s" x="777.5" y="645.5" textLength="9" lengthAdjust="spacingAndGlyphs">S1</text>
<text class="n" x="815.2" y="577.5" textLength="14.5" lengthAdjust="spacingAndGlyphs">76</text>
<path d="M822 581.5 L817 588"/>
<path d="M804.4 610.5 H1035.2 V592.8"/>
<use xlink:href="#dot" x="851.3" y="610.5"/><use xlink:href="#dot" x="966.2" y="610.5"/><use xlink:href="#dot" x="976.1" y="610.5"/><use xlink:href="#dot" x="1012.2" y="610.5"/>
<rect x="867.8" y="599.3" width="26.9" height="11.2"/>
<text class="s" x="869.8" y="608.7" textLength="22.5" lengthAdjust="spacingAndGlyphs">3BR2</text>
<text class="s" x="898.3" y="608.5" textLength="19" lengthAdjust="spacingAndGlyphs">ø6,3</text>
<path d="M573.7 610.5 V679.6 H851.3 V610.5"/>
<rect x="767" y="668.2" width="26.9" height="11.4"/>
<text class="s" x="769" y="677.7" textLength="22.5" lengthAdjust="spacingAndGlyphs">3BR4</text>
<text class="s" x="797.5" y="677.5" textLength="13" lengthAdjust="spacingAndGlyphs">ø10</text>

<!-- EMERGENCY BRAKE ENGINE -->
<rect class="d" x="210.4" y="594.1" width="145.6" height="149.5"/>
<path d="M269 635.7 V610.5 H573.7 M316 610.5 V635.7"/>
<use xlink:href="#dot" x="316" y="610.5"/>
<rect x="277.7" y="599.3" width="26.8" height="11.2"/>
<text class="s" x="279.7" y="608.7" textLength="22.5" lengthAdjust="spacingAndGlyphs">3BR5</text>
<text class="s" x="288" y="620" textLength="18" lengthAdjust="spacingAndGlyphs">ø6,3</text>
<rect x="260.7" y="635.7" width="17" height="47.6"/>
<rect x="307.6" y="635.7" width="16.9" height="47.6"/>
<path d="M260.7 644.8 H277.7 M307.6 644.8 H324.5 M269 683.3 V695.5 M316 683.3 V695.5"/>
<polyline points="262,646 276,652 262,658 276,664 262,670 276,676 262,682"/>
<polyline points="309,646 323,652 309,658 323,664 309,670 323,676 309,682"/>
<text class="s" x="219" y="711.5" textLength="127.7" lengthAdjust="spacingAndGlyphs">EMERGENCY AND PARKING BRAKE</text>
<text class="s" x="219" y="723.5" textLength="51.5" lengthAdjust="spacingAndGlyphs">ENGINE PART</text>

<!-- EMERGENCY BRAKE BOOM -->
<rect class="d" x="943.3" y="561.6" width="121.4" height="176.3"/>
<text class="n" x="948.2" y="582" textLength="14.5" lengthAdjust="spacingAndGlyphs">44</text>
<path d="M963 577 L971.5 575"/>
<use xlink:href="#cv" transform="translate(976.1 581.1) rotate(180)"/>
<use xlink:href="#xx" x="976.1" y="567.3"/>
<path d="M976.1 570 V576 M976.1 585.5 V610.5"/>
<text class="n" x="987.6" y="576" textLength="36" lengthAdjust="spacingAndGlyphs">60, 61</text>
<path d="M1012 578.5 L1027 583.5"/>
<rect x="1027" y="576.4" width="16.4" height="16.4"/>
<path d="M1031 589 L1039 580 M1030.5 584 m-1 0 a1 1 0 1 0 2 0 a1 1 0 1 0 -2 0"/>
<polyline points="1035.2,576.4 1032.5,574.5 1038,572.5 1032.5,570.5 1038,568.5 1035.2,566.5"/>
<text class="s" x="1049" y="587.5" textLength="13" lengthAdjust="spacingAndGlyphs">F11</text>
<rect x="982" y="599.3" width="26.3" height="11.2"/>
<text class="s" x="984" y="608.7" textLength="22" lengthAdjust="spacingAndGlyphs">3BR3</text>
<text class="s" x="986" y="621" textLength="19" lengthAdjust="spacingAndGlyphs">ø6,3</text>
<rect x="958" y="634.9" width="15.8" height="48.9"/>
<rect x="1004" y="634.9" width="16.4" height="48.9"/>
<path d="M966.2 610.5 V634.9 M966.2 683.8 V695.5 M1012.2 610.5 V634.9 M1012.2 683.8 V695.5 M958 644 H973.8 M1004 644 H1020.4"/>
<polyline points="959.5,645 972.5,651 959.5,657 972.5,663 959.5,669 972.5,675 959.5,682"/>
<polyline points="1005.5,645 1019,651 1005.5,657 1019,663 1005.5,669 1019,675 1005.5,682"/>
<text class="s" x="945" y="710.5" textLength="117.4" lengthAdjust="spacingAndGlyphs">EMERGENCY AND PARKING BRAKE</text>
<text class="s" x="946" y="723" textLength="38.5" lengthAdjust="spacingAndGlyphs">BOOM PART</text>

<!-- TANK / COOLER AREA -->
<path class="dd" d="M1072.5 634.9 H1118.8 V657.3 H1100.3 V785.2 H1072.5 Z"/>
<path d="M1080.3 646.1 H1261.8"/>
<use xlink:href="#dot" x="1080.3" y="646.1"/><use xlink:href="#dot" x="1113.3" y="646.1"/><use xlink:href="#dot" x="1173.9" y="646.1"/><use xlink:href="#dot" x="1261.8" y="646.1"/>
<rect x="1146.6" y="553.8" width="26.5" height="11.2"/>
<text class="s" x="1148.6" y="563.2" textLength="22.5" lengthAdjust="spacingAndGlyphs">STT2</text>
<text class="s" x="1176" y="563" textLength="13" lengthAdjust="spacingAndGlyphs">ø19</text>
<path d="M1173.9 577.2 L1185.6 588.9 L1173.9 600.6 L1162.2 588.9 Z M1164 588.9 H1184 M1167 586.5 L1164 588.9 L1167 591.3 M1181 586.5 L1184 588.9 L1181 591.3"/>
<rect x="1146.6" y="608.4" width="26.5" height="11.7"/>
<text class="s" x="1148.6" y="618" textLength="22.5" lengthAdjust="spacingAndGlyphs">TRT2</text>
<text class="s" x="1176" y="618" textLength="13" lengthAdjust="spacingAndGlyphs">ø19</text>
<text class="s" x="1243.6" y="573.5" textLength="41.6" lengthAdjust="spacingAndGlyphs">BORRSYST.</text>
<text class="s" x="1238.9" y="586.5" textLength="50.7" lengthAdjust="spacingAndGlyphs">DRILL SYST.</text>
<use xlink:href="#tri" x="1261.8" y="599"/>
<path d="M1261.8 598.5 V646.1"/>
<text class="s" x="1265.7" y="617" textLength="14" lengthAdjust="spacingAndGlyphs">ø25</text>
<rect x="1262.3" y="620.1" width="16.9" height="11.2"/>
<text class="s" x="1264.3" y="629.5" textLength="12" lengthAdjust="spacingAndGlyphs">T3</text>
<rect x="1131.8" y="634.4" width="26.5" height="11.2"/>
<text class="s" x="1133.8" y="643.8" textLength="22.5" lengthAdjust="spacingAndGlyphs">TRT3</text>
<text class="s" x="1135.7" y="655.5" textLength="14" lengthAdjust="spacingAndGlyphs">ø19</text>
<path d="M1113.3 646.1 V701.5 M1113.3 710 V726.7"/>
<use xlink:href="#cv" transform="translate(1113.3 705.9) rotate(180)"/>
<rect x="1113.3" y="672.9" width="17.2" height="10.9"/>
<text class="s" x="1116" y="682.2" textLength="10" lengthAdjust="spacingAndGlyphs">TF</text>
<text class="s" x="1115.4" y="693.5" textLength="21" lengthAdjust="spacingAndGlyphs">ø12,5</text>
<text class="n" x="1133.6" y="725" textLength="14.3" lengthAdjust="spacingAndGlyphs">82</text>
<path d="M1118 711 L1128.5 716"/>
<path class="f" d="M1109.3 732.7 L1117.3 732.7 L1113.3 726 Z"/>
<rect class="dd" x="1166.9" y="637" width="113.1" height="130.5"/>
<path class="d" d="M1215.5 657.3 H1277.9 V764.9 H1183 V685.6 H1215.5 Z"/>
<rect x="1175.2" y="661.7" width="20.8" height="10.9"/>
<text class="s" x="1177.2" y="671" textLength="16.5" lengthAdjust="spacingAndGlyphs">SU3</text>
<text class="s" x="1178" y="683" textLength="14" lengthAdjust="spacingAndGlyphs">ø25</text>
<path class="f" d="M1192.8 657.8 L1200.8 657.8 L1196.8 651 Z"/>
<path d="M1196.8 657.8 V688.2 M1196.8 711.6 V715.5"/>
<path d="M1196.8 688.2 L1208.5 699.9 L1196.8 711.6 L1185.1 699.9 Z"/>
<path class="d" d="M1187 699.9 H1207" style="stroke-dasharray:4 2"/>
<rect class="d" x="1225.4" y="660.9" width="50.4" height="50.2"/>
<path d="M1261.8 646.1 V675.4 M1262.3 698.4 V715.5"/>
<path d="M1262.3 675.4 L1273.8 686.9 L1262.3 698.4 L1250.8 686.9 Z"/>
<path d="M1252.5 686.9 H1272" style="stroke-dasharray:4 2"/>
<use xlink:href="#dot" x="1262.3" y="665.6"/><use xlink:href="#dot" x="1262.3" y="707.2"/>
<path d="M1262.3 665.6 H1234.5 V675 M1234.5 700 V707.2 H1262.3"/>
<use xlink:href="#cv" transform="translate(1234.5 680)"/>
<polyline points="1234.5,685 1231.5,687 1237.5,690 1231.5,693 1237.5,696 1234.5,700"/>
<rect x="1188.7" y="715.5" width="85.3" height="48.4"/>
<text class="s" x="1198.6" y="747" textLength="61.9" lengthAdjust="spacingAndGlyphs">HYDRAULIC OIL</text>
<text class="s" x="1223.5" y="759.5" textLength="17.7" lengthAdjust="spacingAndGlyphs">TANK</text>
<path d="M1274 726.7 H1288 M1274 752.7 H1288"/>
<path class="f" d="M1288 722.5 L1288 731 L1295.5 726.7 Z M1288 748.5 L1288 757 L1295.5 752.7 Z"/>
<text class="s" x="1320.5" y="763" transform="rotate(-90 1320.5 763)" textLength="89.6" lengthAdjust="spacingAndGlyphs">TO THE EL.HYD.PUMPS</text>
<path d="M1196.8 763.9 V806 M1228 763.9 V806 M1272.2 763.9 V805"/>
<path class="f" d="M1192.8 811 L1200.8 811 L1196.8 804 Z M1224 811 L1232 811 L1228 804 Z M1268.2 804.5 L1276.2 804.5 L1272.2 811.5 Z"/>
<rect x="1173.9" y="772.7" width="22.1" height="11.2"/>
<text class="s" x="1175.9" y="782.1" textLength="17.5" lengthAdjust="spacingAndGlyphs">D11</text>
<text class="s" x="1176" y="793" textLength="14" lengthAdjust="spacingAndGlyphs">ø19</text>
<rect x="1205.9" y="772.7" width="21.3" height="11.2"/>
<text class="s" x="1207.9" y="782.1" textLength="17" lengthAdjust="spacingAndGlyphs">D22</text>
<text class="s" x="1210" y="793" textLength="14" lengthAdjust="spacingAndGlyphs">ø10</text>
<rect x="1272.7" y="772.7" width="21.6" height="11.2"/>
<text class="s" x="1274.7" y="782.1" textLength="17.5" lengthAdjust="spacingAndGlyphs">SU1</text>
<text class="s" x="1276" y="793" textLength="23.5" lengthAdjust="spacingAndGlyphs">ø31,5</text>

<!-- PUMP BLOCK 74 -->
<path class="d" d="M367.9 667 H565.5 V687.7 H629.2 V735.8 H665.6 V904.8 H367.9 Z"/>
<rect class="d" x="371.8" y="670.8" width="189.8" height="76.7"/>
<path class="dd" d="M561.6 711.1 H626.1 V739.7 H661.7 V900.9 H371.8 V747.5"/>
<path d="M429 670.8 V747.5 M429 711.1 H561.6"/>
<text class="n" x="429.4" y="649.5" textLength="13.9" lengthAdjust="spacingAndGlyphs">74</text>
<path d="M444.8 651.3 L464.9 670.8"/>
<text class="x" x="487.5" y="687" textLength="26" lengthAdjust="spacingAndGlyphs">380 bar</text>
<rect x="473.2" y="691.6" width="32.5" height="16.1"/>
<path d="M489.4 691.6 V707.7 M478 706 L484 694 M496 694 L500 706 M481.5 705 V708 M494 693 V696 M500 693 V696"/>
<rect x="505.7" y="691.6" width="16.9" height="16.1"/>
<path class="f" d="M513 699.6 L521.5 695 L521.5 704.2 Z"/>
<polyline points="456,700 458.5,696 461,704 463.5,696 466,704 468.5,696 471,704 473.2,700"/>
<path d="M459 705 L472 693"/>
<path d="M457 689 V686 H466 V691.6"/>
<path d="M522.6 699.4 H552.5 V739.7 H609.7 V799.5 H633.9"/>
<use xlink:href="#dot" x="633.9" y="799.5"/>
<rect x="461.5" y="723.3" width="48.1" height="16.4"/>
<path d="M477.5 723.3 V739.7 M493.5 723.3 V739.7 M466 726 V737 M471 737 V726 M482 726 L490 737 M490 726 L482 737 M497 726 L506 737 M506 726 L497 737"/>
<rect x="448.5" y="723.3" width="13" height="10"/>
<path d="M448.5 733.3 L461.5 724"/>
<rect x="509.6" y="723.3" width="12.5" height="10"/>
<path d="M509.6 733.3 L522.1 724"/>
<polyline points="449,742 451,738 453,745 455,738 457,745 459,738 461.5,742"/>
<polyline points="509.6,742 511.6,738 513.6,745 515.6,738 517.6,745 519.6,738 522,742"/>
<path d="M489.4 707.7 V723.3 M489 739.7 V747.5"/>
<text class="s" x="435" y="730.5" textLength="10.5" lengthAdjust="spacingAndGlyphs">S5</text>
<text class="s" x="524" y="730.5" textLength="10.5" lengthAdjust="spacingAndGlyphs">S4</text>
<text class="x" x="452" y="721">b</text><text class="x" x="513" y="721">a</text>
<rect x="388.7" y="691.6" width="16.1" height="15.6"/>
<polyline points="377,697 379,694 381,700 383,694 385,700 387,694 388.7,697"/>
<polyline points="404.8,697 406.8,694 408.8,700 410.8,694 412.8,700 414.8,694 416.5,697"/>
<path class="d" d="M381 707.5 V735.8 H396.5" style="stroke-dasharray:4 2"/>
<path d="M392 720 Q395 725 392 730 M401 720 Q398 725 401 730"/>
<path d="M396.5 679.1 H429 M396.5 679.1 V691.6 M396.5 707.2 V812.5 M412.1 679.1 V755.3 H597.5"/>
<use xlink:href="#dot" x="412.1" y="679.1"/><use xlink:href="#dot" x="396.5" y="715.6"/><use xlink:href="#dot" x="396.5" y="735.8"/><use xlink:href="#dot" x="412.1" y="715.6"/>
<path d="M396.5 715.6 H412.1"/>
<use xlink:href="#dot" x="597.5" y="699.4"/><use xlink:href="#dot" x="597.5" y="755.3"/><use xlink:href="#dot" x="597.5" y="824.2"/>
<path d="M597.5 699.4 H604.5"/>
<use xlink:href="#cv" transform="translate(609.2 699.4) rotate(-90)"/>
<path d="M613.5 699.4 H618.7 M618.7 694 V704.8 M621 699.4 H634"/>
<text class="n" x="638.3" y="704" textLength="14.3" lengthAdjust="spacingAndGlyphs">74</text>
<text class="s" x="577" y="721.5">T</text>
<text class="s" x="600.5" y="722">G</text>
<!-- main loop -->
<path class="d" d="M367.9 763.1 H429 M367.9 884 H429"/>
<path d="M429 763.1 H750 V807 M429 884 H750 V831"/>
<use xlink:href="#dot" x="429" y="763.1"/><use xlink:href="#dot" x="429" y="884"/>
<text class="s" x="372" y="774.5" textLength="11" lengthAdjust="spacingAndGlyphs">MB</text>
<text class="s" x="372" y="879.5" textLength="11" lengthAdjust="spacingAndGlyphs">MA</text>
<text class="s" x="374.5" y="860">S</text>
<text class="s" x="650.5" y="775.5">B</text>
<text class="s" x="650.5" y="881">A</text>
<use xlink:href="#cv" transform="translate(362.5 763.1) rotate(90)"/>
<path d="M352.5 758 V768 M352.5 763.1 H357.5"/>
<text class="n" x="347" y="796">7</text>
<path d="M355 771 L352.5 782"/>
<use xlink:href="#cv" transform="translate(362.5 884) rotate(90)"/>
<path d="M352.5 879 V889 M352.5 884 H357.5"/>
<text class="n" x="349" y="864">7</text>
<path d="M354 866 L358 877"/>
<rect x="345.8" y="816.4" width="16.1" height="15.6"/>
<text class="x" x="350" y="827.5">M</text>
<path d="M361.9 820.3 H384.8 M361.9 828.1 H384.8"/>
<circle cx="396.5" cy="824.2" r="11.7"/>
<text style="font-size:8.5px" x="388" y="828" textLength="16" lengthAdjust="spacingAndGlyphs">11cc</text>
<path class="f" d="M392.5 818 L400.5 818 L396.5 812.5 Z"/>
<path d="M396.5 835.9 V848.4 H288.6 M265.2 848.4 H245.7 V864"/>
<path d="M276.9 836.7 L288.6 848.4 L276.9 860.1 L265.2 848.4 Z"/>
<path d="M276.9 840 V857" style="stroke-dasharray:3 2"/>
<path d="M237.9 860.6 V864 H254.3 V860.6"/>
<rect x="306.3" y="836.7" width="22.6" height="11.7"/>
<text class="s" x="308.3" y="846.4" textLength="18" lengthAdjust="spacingAndGlyphs">SU3</text>
<text class="s" x="310.7" y="858" textLength="14" lengthAdjust="spacingAndGlyphs">ø25</text>
<circle cx="429" cy="824.2" r="12"/>
<path d="M415 839 L441 810"/>
<path class="f" d="M443.5 807 L437 809.5 L441.5 814 Z"/>
<path class="f" d="M425 818 L433 818 L429 812.2 Z M425 830.4 L433 830.4 L429 836.2 Z"/>
<path d="M408.2 820.3 H417 M408.2 828.1 H417 M441 820.3 H514.8 M441 828.1 H514.8"/>
<path d="M429 763.1 V812.2 M429 836.2 V884"/>
<text class="s" x="432.9" y="774.5" textLength="19" lengthAdjust="spacingAndGlyphs">PUMP</text>
<text class="s" x="431.6" y="783.5" textLength="43" lengthAdjust="spacingAndGlyphs">D=max56cc</text>
<path class="d" d="M438 838 L444 845 V851" style="stroke-dasharray:3 2"/>
<path d="M434 851 V855.4 H451 V851"/>
<path class="d" d="M460.7 904.8 V791.7 H516.9 V904.8 M480.2 711.1 V791.7 M488.3 711.1 V791.7"/>
<use xlink:href="#dot" x="469.8" y="791.7"/><use xlink:href="#dot" x="497.4" y="791.7"/>
<path d="M469.8 791.7 V816.4 M497.4 791.7 V816.4"/>
<path d="M466 800 Q469 804.7 466 809.4 M473.6 800 Q470.6 804.7 473.6 809.4 M493.6 800 Q496.6 804.7 493.6 809.4 M501.2 800 Q498.2 804.7 501.2 809.4"/>
<rect x="464.9" y="816.4" width="35.6" height="15.6"/>
<path d="M482.7 816.4 V832"/>
<polyline points="466,831 469,818 472,831 475,818 478,831 481,818"/>
<polyline points="484,831 487,818 490,831 493,818 496,831 499,818"/>
<path d="M540.8 763.1 V884"/>
<use xlink:href="#dot" x="540.8" y="763.1"/><use xlink:href="#dot" x="540.8" y="775.6"/><use xlink:href="#dot" x="540.8" y="824.2"/><use xlink:href="#dot" x="540.8" y="872.3"/><use xlink:href="#dot" x="540.8" y="884"/>
<rect x="532.5" y="783.9" width="16.6" height="15.6" fill="#fff"/>
<rect x="532.5" y="848.9" width="16.6" height="15.6" fill="#fff"/>
<path d="M540.8 786 V797 M538.5 794 L540.8 797.5 L543 794 M540.8 851 V862 M538.5 859 L540.8 862.5 L543 859"/>
<polyline points="549.1,792 551,788 553,796 555,788 557,796 559,788 561,792"/>
<polyline points="549.1,857 551,853 553,861 555,853 557,861 559,853 561,857"/>
<path d="M550 799 L562 782 M550 864 L562 847"/>
<path class="d" d="M540.8 775.6 H525 V792 H532.5 M540.8 872.3 H525 V856 H532.5" style="stroke-dasharray:4 2"/>
<text class="x" x="546" y="811.5" textLength="22" lengthAdjust="spacingAndGlyphs">420BAR</text>
<text class="x" x="546" y="844" textLength="22" lengthAdjust="spacingAndGlyphs">420BAR</text>
<path d="M540.8 824.2 H597.5"/>
<path d="M573.3 763.1 V781 M573.3 789.5 V858 M573.3 866 V884"/>
<use xlink:href="#dot" x="573.3" y="763.1"/><use xlink:href="#dot" x="573.3" y="824.2"/><use xlink:href="#dot" x="573.3" y="884"/>
<use xlink:href="#cv" transform="translate(573.3 785.2) rotate(180)"/>
<use xlink:href="#cv" transform="translate(573.3 861.9)"/>
<rect x="588.9" y="840.6" width="16.4" height="16.1"/>
<path d="M597.5 824.2 V840.6 M597.5 856.7 V869 M588.9 869 H605.3 M597.5 843 V854 M595.3 851 L597.5 854.5 L599.7 851"/>
<polyline points="605.3,848.5 607.3,845 609.3,852 611.3,845 613.3,852 615,848.5"/>
<path class="d" d="M597.5 831 H581 V848 H588.9" style="stroke-dasharray:4 2"/>
<text class="x" x="604.5" y="834.5" textLength="18" lengthAdjust="spacingAndGlyphs">25BAR</text>
<path d="M633.9 763.1 V781 M633.9 789.5 V858 M633.9 866 V884"/>
<use xlink:href="#dot" x="633.9" y="763.1"/><use xlink:href="#dot" x="633.9" y="884"/>
<use xlink:href="#cv" transform="translate(633.9 785.2) rotate(180)"/>
<use xlink:href="#cv" transform="translate(633.9 861.9)"/>
<path d="M609.7 799.5 V763.1"/>
<!-- X1 X2 R -->
<text class="s" x="443" y="896.5" textLength="9" lengthAdjust="spacingAndGlyphs">X1</text>
<text class="s" x="520" y="896.5" textLength="9" lengthAdjust="spacingAndGlyphs">X2</text>
<text class="s" x="558" y="896.5">R</text>
<path d="M556.9 889 V906"/>
<use xlink:href="#cv" transform="translate(461.5 910)"/>
<use xlink:href="#cv" transform="translate(516.1 910)"/>
<use xlink:href="#cv" transform="translate(556.9 910)"/>
<path d="M461.5 914 V920 M456 920 H467 M516.1 914 V920 M510.6 920 H521.6 M556.9 914 V920 M551.4 920 H562.4"/>
<text class="n" x="478.4" y="944.5">7</text>
<text class="n" x="533" y="944.5">7</text>
<text class="n" x="573.3" y="944.5">7</text>
<path d="M469 914 L477 930 M523 914 L532 930 M563 914 L572 930"/>
<rect x="678" y="752.7" width="22" height="10.9"/>
<text class="s" x="680" y="762" textLength="17" lengthAdjust="spacingAndGlyphs">TR1</text>
<text style="font-size:7px" x="679" y="770.5">ø19</text>
<rect x="678" y="873.6" width="22" height="10.4"/>
<text class="s" x="680" y="882.6" textLength="17" lengthAdjust="spacingAndGlyphs">TR2</text>
<text style="font-size:7px" x="679" y="891.5">ø19</text>
<path d="M665.6 884 L686.2 939.1 H736.8"/>
<text class="n" x="691.5" y="936.5" textLength="71.7" lengthAdjust="spacingAndGlyphs">8, 9, 10 (2x)</text>

<!-- MOTOR 75 -->
<rect class="d" x="713.9" y="743.6" width="185.9" height="161.2"/>
<rect class="dd" x="717.8" y="747.5" width="178.1" height="153.4"/>
<text class="n" x="770" y="724.5" textLength="14.5" lengthAdjust="spacingAndGlyphs">75</text>
<path d="M787.3 726.7 L807 747.5"/>
<text class="s" x="805.4" y="769.5" textLength="71.2" lengthAdjust="spacingAndGlyphs">MOTOR D=max55cc</text>
<circle cx="750" cy="819" r="12"/>
<rect x="724.2" y="815" width="13.8" height="4"/>
<path class="f" d="M746 808 L754 808 L750 813.5 Z M746 830 L754 830 L750 824.5 Z"/>
<path d="M734 837 L764 804"/>
<path class="f" d="M766.5 801 L760 803.5 L764.5 808 Z"/>
<path d="M766 802.1 H881.9 M768 806 H881.9 M881.9 802.1 V806"/>
<rect x="820.7" y="796.1" width="44.8" height="15.9"/>
<path d="M839.7 796.1 V812 M845.5 796.1 V812"/>
<path d="M827 812 V836 H839.1 V848.4 M859.4 812 V836 H847 V848.4"/>
<path d="M823.5 821.5 L827 824.2 L823.5 827 M830.5 821.5 L827 824.2 L830.5 827"/>
<rect x="819.4" y="848.4" width="31.6" height="16.1"/>
<path d="M835.2 848.4 V864.5 M822 851 L833 862 M833 851 L822 862 M839.1 851 V862 M847 851 V862 M837 853 L839.1 850.5 L841.2 853 M845 860 L847 862.5 L849 860"/>
<rect x="807" y="852.3" width="12.4" height="8"/>
<path d="M807 860.3 L819.4 853"/>
<polyline points="851,857 853,853.5 855,860.5 857,853.5 859,860.5 861,853.5 863,860.5 865,857"/>
<text class="s" x="804.5" y="848" textLength="10.5" lengthAdjust="spacingAndGlyphs">S6</text>
<path d="M839.1 864.5 V872.3 M847 864.5 V884"/>
<use xlink:href="#dot" x="839.1" y="872.3"/><use xlink:href="#dot" x="847" y="884"/>
<use xlink:href="#dot" x="750" y="775.3"/><use xlink:href="#dot" x="750" y="872.3"/><use xlink:href="#dot" x="790.9" y="872.3"/>
<path d="M750 775.3 H773.5 M782 775.3 H790.9 V872.3 M750 872.3 H773.5 M782 872.3 H895"/>
<use xlink:href="#cv" transform="translate(777.7 775.3) rotate(90)"/>
<use xlink:href="#cv" transform="translate(777.7 872.3) rotate(90)"/>
<use xlink:href="#xx" x="895" y="872.3"/>
<path class="d" d="M764.5 835 V884 H847" style="stroke-dasharray:4 2"/>
<path d="M847 884 H928 V781.8 H1080.3"/>
<rect x="979.4" y="782.6" width="27.2" height="11"/>
<text class="s" x="981.4" y="791.9" textLength="23" lengthAdjust="spacingAndGlyphs">TRT1</text>
<text class="s" x="1009.5" y="791.5" textLength="13" lengthAdjust="spacingAndGlyphs">ø10</text>
<text class="s" x="721.5" y="773.5">B</text>
<text class="s" x="721.5" y="882">A</text>
<text class="s" x="885" y="870">G</text>
<text class="s" x="886.5" y="893">T</text>
<path d="M717.8 884 L738.2 919.9 H790.9"/>
<text class="n" x="742" y="917.5" textLength="64.7" lengthAdjust="spacingAndGlyphs">4, 5, 6 (2x)</text>
</svg>
</body></html>
